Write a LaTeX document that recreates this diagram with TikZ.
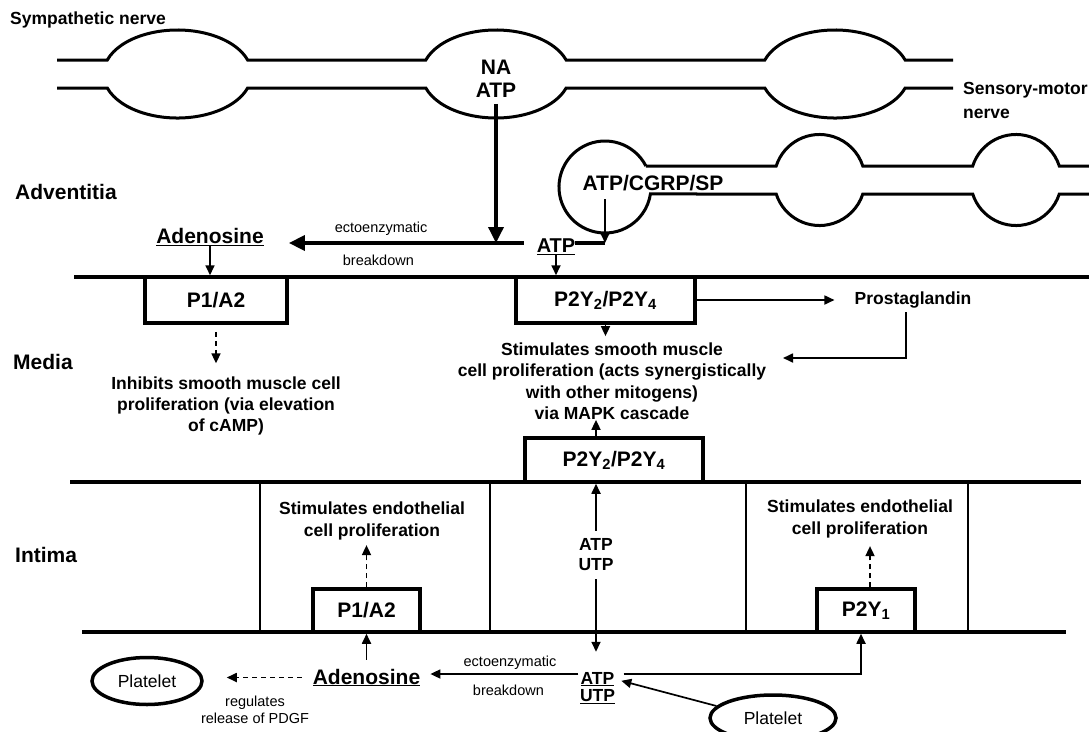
\documentclass[tikz,border=0pt]{standalone}
\usepackage{fontspec}
\setmainfont{Liberation Sans}
\usepackage{tikz}
\usetikzlibrary{arrows.meta,shapes.geometric,positioning}
\tikzset{
    %Define standard arrow tip
    >={Triangle[length=10pt,width=9pt]},
    %Define style for texts
    zone/.style={
           anchor=west,
           inner sep=0pt,
           font=\fontsize{21}{25}\selectfont\bfseries},
    txt/.style={
           align=center,
           inner sep=0pt,
           font=\fontsize{17.5}{21.5}\selectfont\bfseries},
    bigtxt/.style={
           align=center,
           inner sep=0pt,
           font=\fontsize{21}{23}\selectfont\bfseries},
    sml/.style={
           align=center,
           inner sep=0pt,
           font=\fontsize{14.5}{17}\selectfont},
    %Define style for boxes
    rcpt/.style={
           rectangle,
           draw=black, line width=3.5pt,
           inner sep=0pt,
           font=\fontsize{21}{25}\selectfont\bfseries},
    pcell/.style={
           ellipse,
           draw=black, line width=3.5pt,
           inner sep=0pt,
           font=\fontsize{17.5}{21}\selectfont},
    % Define line styles
    memb/.style={line width=3.5pt},
    nerve/.style={line width=3pt},
    pil/.style={->, line width=1.7pt},
    tpil/.style={-{Triangle[length=16pt,width=15pt]}, line width=3.5pt},
    dpil/.style={pil, dash pattern=on 5pt off 4pt}
}

\begin{document}
\begin{tikzpicture}[x=1pt,y=-1pt]
\useasboundingbox (0,0) rectangle (1089,731);
% nerves
\draw[nerve] (57,60) -- (107.3,60) arc[start angle=161.45,end angle=18.55,x radius=74pt,y radius=44pt]
    -- (425.8,60) arc[start angle=161.45,end angle=18.55,x radius=74pt,y radius=44pt]
    -- (764.8,60) arc[start angle=161.45,end angle=18.55,x radius=74pt,y radius=44pt] -- (953,60);
\draw[nerve] (57,88) -- (107.3,88) arc[start angle=198.55,end angle=341.45,x radius=74pt,y radius=44pt]
    -- (425.8,88) arc[start angle=198.55,end angle=341.45,x radius=74pt,y radius=44pt]
    -- (764.8,88) arc[start angle=198.55,end angle=341.45,x radius=74pt,y radius=44pt] -- (953,88);
\draw[nerve] (645.9,166) arc[start angle=27.16,end angle=351.25,radius=46pt]
    -- (776.2,194) arc[start angle=197.9,end angle=342.1,radius=45.5pt]
    -- (972.7,194) arc[start angle=197.9,end angle=342.1,radius=45.5pt] -- (1089,194);
\draw[nerve] (645.9,166) -- (776.2,166) arc[start angle=162.1,end angle=17.9,radius=45.5pt]
    -- (972.7,166) arc[start angle=162.1,end angle=17.9,radius=45.5pt] -- (1089,166);
% membranes
\draw[memb] (74,277) -- (1089,277);
\draw[memb] (70,482) -- (1081,482);
\draw[memb] (82,632) -- (1066,632);
\foreach \x in {260,490,746,968}
    \draw[line width=1.7pt] (\x,482) -- (\x,632);
% layer names
\node[txt, anchor=west] (1) at (10,20) {Sympathetic nerve};
\node[txt, anchor=north west, align=left, font=\fontsize{17.5}{24}\selectfont\bfseries] (23) at (963,82) {Sensory-motor\\nerve};
\node[zone] (24) at (15,192) {Adventitia};
\node[zone] (25) at (13,362) {Media};
\node[zone] (26) at (15,555) {Intima};
% adventitia
\node[bigtxt] (2) at (496,79) {NA\\ATP};
\node[bigtxt] (3) at (210,237) {\underline{Adenosine}};
\node[bigtxt, font=\fontsize{20}{23}\selectfont\bfseries] (4) at (556,247) {\underline{ATP}};
\node[bigtxt] (5) at (653,183) {ATP/CGRP/SP};
% media
\node[rcpt, minimum width=142pt, minimum height=46pt] (6) at (216,300) {P1/A2};
\node[rcpt, minimum width=179pt, minimum height=46pt] (7) at (605.5,300) {P2Y\textsubscript{2}/P2Y\textsubscript{4}};
\node[txt, font=\fontsize{17.5}{21.3}\selectfont\bfseries] (8) at (226,406) {Inhibits smooth muscle cell\\proliferation (via elevation\\of cAMP)};
\node[txt] (9) at (612,381) {Stimulates smooth muscle\\cell proliferation (acts synergistically\\with other mitogens)\\via MAPK cascade};
\node[txt] (10) at (913,300) {Prostaglandin};
\coordinate (c1) at (605,243);
\coordinate (c2) at (783,358);
% intima
\node[rcpt, minimum width=178pt, minimum height=44pt] (11) at (614,460) {P2Y\textsubscript{2}/P2Y\textsubscript{4}};
\node[txt, font=\fontsize{17.5}{20}\selectfont\bfseries] (12) at (596,555) {ATP\\UTP};
\node[rcpt, minimum width=107pt, minimum height=43pt] (13) at (366.5,610.5) {P1/A2};
\node[txt] (14) at (372,521) {Stimulates endothelial\\cell proliferation};
\node[rcpt, minimum width=98pt, minimum height=43pt] (15) at (866,610.5) {P2Y\textsubscript{1}};
\node[txt] (16) at (860,519) {Stimulates endothelial\\cell proliferation};
% lumen
\node[bigtxt] (17) at (366.5,677.5) {\underline{Adenosine}};
\node[txt] (18) at (597.5,679) {\underline{ATP}};
\node[txt] (19) [below=3pt of 18] {\underline{UTP}};
\node[pcell, minimum width=110pt, minimum height=47pt] (20) at (147,681) {Platelet};
\node[pcell, minimum width=126pt, minimum height=46pt] (21) at (773,718) {Platelet};
\node[sml] (22) at (255,710) {regulates\\release of PDGF};
% connectors
\draw[tpil, shorten <=6pt] (2.south) -- (2.south |- c1);
\draw[tpil, shorten <=13pt, shorten >=25pt] (c1 -| 4.west) -- (c1 -| 3.east)
    node[sml, pos=.57, above=6pt] {ectoenzymatic}
    node[sml, pos=.58, below=10pt] {breakdown};
\draw[line width=3.5pt] (c1 -| 4.east) -- (c1);
\draw[pil, shorten <=8pt] (5.south -| c1) -- (c1);
\draw[pil] (4.south) -- (4.south |- 7.north);
\draw[pil] (3.south) -- (3.south |- 6.north);
\draw[dpil, shorten <=7pt, shorten >=13pt] (6.south) -- (6.south |- 8.north);
\draw[pil, shorten >=6pt] (7.south) -- (7.south |- 9.north);
\draw[pil, shorten >=20pt] (7.east) -- (7.east -| 10.west);
\draw[pil, shorten <=4pt] ([xshift=-7pt]10.south) |- (c2);
\draw[pil] (12.north |- 11.north) -- (12.north |- 9.south);
\draw[pil, shorten <=8pt] (12.north) -- (12.north |- 11.south);
\draw[pil, shorten <=8pt, shorten >=20pt] (12.south) -- (12.south |- 18.north);
\draw[dpil, shorten >=5pt] (13.north) -- (13.north |- 14.south);
\draw[dpil, shorten >=8pt] ([xshift=4pt]15.north) -- ([xshift=4pt]15.north |- 16.south);
\draw[pil, shorten <=9pt] (17.north) -- (17.north |- 13.south);
\draw[dpil, shorten <=11pt, shorten >=23pt] (17.west) -- (17.west -| 20.east);
\draw[pil, shorten <=2pt, shorten >=10pt] ([yshift=5pt]18.west) -- ([yshift=5pt]18.west -| 17.east)
    node[sml, pos=.44, above=4pt] {ectoenzymatic}
    node[sml, pos=.45, below=10pt] {breakdown};
\draw[pil, shorten <=9pt] ([yshift=5pt]18.east) -| ([xshift=-5pt]15.south);
\draw[pil, shorten >=7pt] (21.168) -- (18.east);
\end{tikzpicture}
\end{document}
